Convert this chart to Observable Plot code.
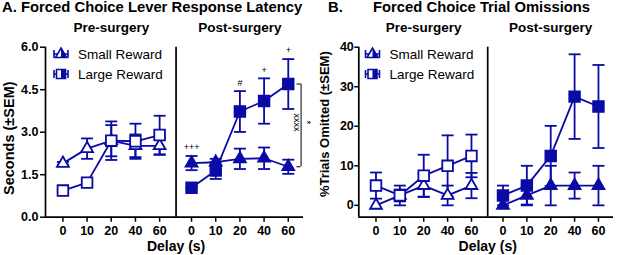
<!DOCTYPE html>
<html><head><meta charset="utf-8">
<script src="https://cdn.jsdelivr.net/npm/d3@7"></script>
<script src="https://cdn.jsdelivr.net/npm/@observablehq/plot@0.6"></script>
<style>
body{margin:0;background:#fff;font-family:"Liberation Sans",Arial,sans-serif;}
#wrap{position:relative;width:617px;height:255px;overflow:hidden;background:#fff;}
.panel{position:absolute;top:0;}
.title{position:absolute;top:0;font-weight:bold;font-size:14.8px;white-space:nowrap;line-height:1;color:#000;}
#legend{position:absolute;left:0;top:0;}
</style></head><body><div id="wrap"></div>
<script>
// ---------- data ----------
const delays = ["0", "10", "20", "40", "60"];
const groups = ["Small Reward", "Large Reward"];
const phaseNames = ["Pre-surgery", "Post-surgery"];

// Panel A: Forced choice lever response latency (s)
const latSmallPre      = [1.90, 2.42, 2.70, 2.52, 2.52];
const latSmallPreSem   = [0.05, 0.36, 0.55, 0.40, 0.32];
const latLargePre      = [0.94, 1.22, 2.70, 2.68, 2.90];
const latLargePreSem   = [0.05, 0.10, 0.68, 0.62, 0.68];
const latSmallPost     = [1.91, 1.94, 2.06, 2.08, 1.78];
const latSmallPostSem  = [0.25, 0.12, 0.36, 0.38, 0.25];
const latLargePost     = [1.04, 1.65, 3.73, 4.10, 4.70];
const latLargePostSem  = [0.05, 0.30, 0.72, 0.80, 0.88];
const latTicks = [0, 1.5, 3, 4.5, 6];
const latMarks  = ["+++", "", "#", "+", "+"];
const latMarkY  = [2.47, null, 4.74, 5.20, 5.88];
const latBracket = [4.70, 1.78];   // Large vs Small at 60 s post-surgery
const latBracketLeft = "xxxx";
const latBracketRight = "*";

// Panel B: Forced choice trial omissions (%)
const omSmallPre      = [0, 2.5, 5.0, 2.5, 5.0];
const omSmallPreSem   = [0, 1.5, 2.9, 2.5, 3.2];
const omLargePre      = [5.0, 2.5, 7.5, 10.0, 12.5];
const omLargePreSem   = [3.3, 2.5, 5.3, 7.7, 5.4];
const omSmallPost     = [0, 2.5, 5.0, 5.0, 5.0];
const omSmallPostSem  = [0, 2.3, 5.0, 3.3, 5.0];
const omLargePost     = [2.5, 5.0, 12.5, 27.5, 25.0];
const omLargePostSem  = [2.5, 5.0, 7.6, 10.7, 10.5];
const omTicks = [0, 10, 20, 30, 40];

// ---------- layout ----------
const COLOR = "#0a0aa5";
const OFFSET = 5.32, DIVIDER = 4.68, XDOM = [-0.72, 9.95];
const FONT = "Liberation Sans, Arial, sans-serif";
const xpos = (phase, i) => i + (phase ? OFFSET : 0);

function buildRows(sets) {
  const rows = [];
  for (const s of sets) s.v.forEach((v, i) => rows.push({
    group: s.group, phase: s.phase, i, x: xpos(s.phase, i), y: v, sem: s.s[i],
    lo: v - s.s[i], hi: v + s.s[i]
  }));
  return rows;
}

const capSymbol = {draw(ctx) { ctx.moveTo(-6, 0); ctx.lineTo(6, 0); }};

function panel(cfg) {
  const rows = buildRows(cfg.sets);
  const tickPos = [], tickLab = new Map();
  [0, 1].forEach(p => delays.forEach((d, i) => { const x = xpos(p, i); tickPos.push(x); tickLab.set(x, d); }));
  const sq = rows.filter(d => d.group === 1), tri = rows.filter(d => d.group === 0);
  const bars = rows.filter(d => d.sem > 0);
  return Plot.plot({
    width: cfg.width, height: 255,
    marginLeft: cfg.ml, marginRight: cfg.mr, marginTop: 46.7, marginBottom: 38.3,
    x: {domain: XDOM, label: null},
    y: {domain: cfg.ydom, label: null},
    style: {fontFamily: FONT, fontWeight: "bold", background: "transparent", overflow: "visible", color: "#000"},
    marks: [
      Plot.ruleX([XDOM[0]], {stroke: "#000", strokeWidth: 1.7}),
      Plot.ruleY([cfg.ydom[0]], {stroke: "#000", strokeWidth: 1.7}),
      Plot.ruleX([DIVIDER], {stroke: "#000", strokeWidth: 1.7}),
      Plot.axisY(cfg.ticks, {anchor: "left", tickSize: cfg.ytick, tickPadding: cfg.ypad, fontSize: 12.5,
        strokeWidth: 1.5, tickFormat: cfg.fmt, label: null}),
      Plot.axisX(tickPos, {anchor: "bottom", tickSize: 5, tickPadding: 4, fontSize: 12.5, strokeWidth: 1.5,
        tickFormat: d => tickLab.get(d), label: null}),
      Plot.text(["Delay (s)"], {text: d => d, x: DIVIDER, frameAnchor: "bottom", lineAnchor: "middle", dy: 29,
        fontSize: 14, fontWeight: "bold"}),
      Plot.text([cfg.ylabel], {text: d => d, frameAnchor: "left", textAnchor: "middle", lineAnchor: "middle",
        dx: cfg.ldx, dy: cfg.ldy, rotate: -90, fontSize: cfg.lfs, fontWeight: "bold"}),
      Plot.text(phaseNames, {text: d => d, x: (d, i) => xpos(i, 2), frameAnchor: "top", lineAnchor: "middle", dy: -19.6,
        fontSize: 13.5, fontWeight: "bold"}),
      // error bars
      Plot.ruleX(bars, {x: "x", y1: "lo", y2: "hi", stroke: COLOR, strokeWidth: 1.8}),
      Plot.dot(bars, {x: "x", y: "lo", symbol: capSymbol, r: 3, fill: "none", stroke: COLOR, strokeWidth: 1.8}),
      Plot.dot(bars, {x: "x", y: "hi", symbol: capSymbol, r: 3, fill: "none", stroke: COLOR, strokeWidth: 1.8}),
      // lines
      Plot.line(rows, {x: "x", y: "y", z: d => d.group * 2 + d.phase, stroke: COLOR, strokeWidth: 1.8}),
      // markers: open pre-surgery, filled post-surgery
      Plot.dot(tri.filter(d => !d.phase), {x: "x", y: "y", symbol: "triangle", r: 4.4, fill: "white", stroke: COLOR, strokeWidth: 1.8}),
      Plot.dot(sq.filter(d => !d.phase), {x: "x", y: "y", symbol: "square", r: 6, fill: "white", stroke: COLOR, strokeWidth: 1.8}),
      Plot.dot(tri.filter(d => d.phase), {x: "x", y: "y", symbol: "triangle", r: 4.4, fill: COLOR, stroke: COLOR, strokeWidth: 1.8}),
      Plot.dot(sq.filter(d => d.phase), {x: "x", y: "y", symbol: "square", r: 6, fill: COLOR, stroke: COLOR, strokeWidth: 1.8}),
      ...(cfg.extra || [])
    ]
  });
}

const annRows = latMarks.map((t, i) => ({t, x: xpos(1, i), y: latMarkY[i]})).filter(d => d.t);
const bx = xpos(1, 4) + 0.53;
const extraA = [
  Plot.text(annRows, {x: "x", y: "y", text: "t", fontSize: 9, fontWeight: "normal"}),
  Plot.ruleX([bx], {y1: latBracket[0], y2: latBracket[1], stroke: "#000", strokeWidth: 1}),
  Plot.ruleY(latBracket, {y: d => d, x1: bx - 0.17, x2: bx, stroke: "#000", strokeWidth: 1}),
  Plot.text([latBracketLeft], {text: d => d, x: bx - 0.17, y: (latBracket[0] + latBracket[1]) / 2 + 0.1, rotate: 90, fontSize: 9, fontWeight: "normal"}),
  Plot.text([latBracketRight], {text: d => d, x: bx + 0.22, y: (latBracket[0] + latBracket[1]) / 2 + 0.1, rotate: 90, fontSize: 10, fontWeight: "normal"})
];

const svgA = panel({
  width: 310, ml: 45, mr: 7, ydom: [0, 6], ticks: latTicks, fmt: d3.format(".1f"), ytick: 5, ypad: 2,
  ylabel: "Seconds (±SEM)", ldx: -36, ldy: 6, lfs: 14.5, extra: extraA,
  sets: [
    {group: 0, phase: 0, v: latSmallPre, s: latSmallPreSem},
    {group: 1, phase: 0, v: latLargePre, s: latLargePreSem},
    {group: 0, phase: 1, v: latSmallPost, s: latSmallPostSem},
    {group: 1, phase: 1, v: latLargePost, s: latLargePostSem}
  ]
});
const svgB = panel({
  width: 307, ml: 48.3, mr: 4, ydom: [-3, 40], ticks: omTicks, fmt: d3.format("d"), ytick: 4, ypad: 1,
  ylabel: "%Trials Omitted (±SEM)", ldx: -34, ldy: -8, lfs: 13,
  sets: [
    {group: 0, phase: 0, v: omSmallPre, s: omSmallPreSem},
    {group: 1, phase: 0, v: omLargePre, s: omLargePreSem},
    {group: 0, phase: 1, v: omSmallPost, s: omSmallPostSem},
    {group: 1, phase: 1, v: omLargePost, s: omLargePostSem}
  ]
});

const wrap = document.getElementById("wrap");
svgA.classList.add("panel"); svgA.style.left = "0px";
svgB.classList.add("panel"); svgB.style.left = "310px";
wrap.appendChild(svgA); wrap.appendChild(svgB);

// titles
const titles = [
  {t: "A.", left: 2}, {t: "Forced Choice Lever Response Latency", left: 21},
  {t: "B.", left: 328}, {t: "Forced Choice Trial Omissions", left: 373}
];
for (const tt of titles) {
  const d = document.createElement("div");
  d.className = "title"; d.textContent = tt.t; d.style.left = tt.left + "px";
  wrap.appendChild(d);
}

// legends (inside each panel, top-left)
const leg = d3.select(wrap).append("svg").attr("id", "legend").attr("width", 617).attr("height", 255);
leg.append("clipPath").attr("id", "rh").append("rect").attr("x", 0).attr("y", -20).attr("width", 20).attr("height", 40);
const legendPos = [{x: 61, y: 54}, {x: 372.5, y: 54}];
for (const p of legendPos) {
  groups.forEach((g, gi) => {
    const gy = p.y + gi * 20;
    const G = leg.append("g").attr("transform", `translate(${p.x},${gy})`);
    G.append("path").attr("d", "M-7,0H7M-7,-4V4M7,-4V4").attr("stroke", COLOR).attr("stroke-width", 1.6).attr("fill", "none");
    const shape = gi === 0 ? "M0,-6L5.5,3.5L-5.5,3.5Z" : "M-4.5,-4.5H4.5V4.5H-4.5Z";
    G.append("path").attr("d", shape).attr("fill", "white").attr("stroke", COLOR).attr("stroke-width", 1.6);
    G.append("path").attr("d", shape).attr("fill", COLOR).attr("clip-path", "url(#rh)");
    G.append("text").attr("x", 17).attr("y", 0).attr("dy", "0.35em").attr("font-size", 13.5)
      .attr("font-family", FONT).attr("fill", "#000").text(g);
  });
}
</script></body></html>
